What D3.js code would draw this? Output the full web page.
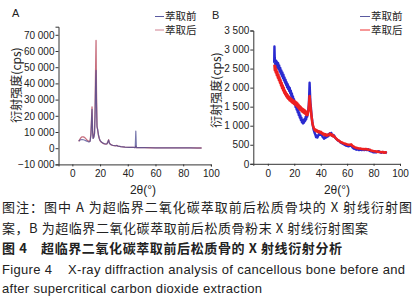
<!DOCTYPE html>
<html><head><meta charset="utf-8">
<script src="https://cdn.jsdelivr.net/npm/d3@7"></script>
<style>
body{margin:0;background:#fff;}
svg{display:block;}
text{fill:#222;}
</style></head>
<body>
<svg id="c" width="420" height="302"></svg>
<script>
// ---------- DATA ----------
// Panel A (bone block)
const aX = [4.6,5,6,7,8,9,10,11,12,12.8,13.4,13.8,14.2,14.6,15.0,15.5,16.0,16.4,16.8,17.1,17.4,17.8,18.3,18.8,19.4,20,21,22,23,24,25,25.7,26.2,26.7,27.5,29,31,32,33,35,38,41,44,45.4,45.8,46.2,48,52,56,60,65,70,75,80,85,90,93.3];
const aBefore = [4300,4700,5200,5300,5200,4900,4500,4100,3800,4200,8000,16000,24000,10000,6000,6800,9000,20000,40000,48000,28000,13000,11500,8500,6200,4800,3800,3200,2800,2600,2700,4000,5000,3200,2300,1800,1500,1600,1300,1000,700,550,450,400,10500,400,350,300,280,250,220,200,180,170,150,130,120];
const aAfter  = [4200,4800,6300,7000,7000,6500,5600,4700,4100,4500,9000,17000,25500,11000,6200,7000,9500,24000,50000,66500,36000,14000,11000,8000,6000,4600,3700,3100,2700,2500,2700,4200,5200,3300,2300,1800,1500,1700,1300,1000,700,550,450,400,1300,400,350,300,280,250,220,200,180,170,150,130,120];
const aYTicks = [-10000,0,10000,20000,30000,40000,50000,60000,70000];
const aXTicks = [0,20,40,60,80,100];

// Panel B (bone powder)
const bBeforeX = [4.8,5.0,5.2,5.5,5.8,6.1,6.4,6.7,7.0,7.4,7.8,8.2,8.6,9.0,9.4,9.8,10.2,10.6,11.0,11.4,11.8,12.2,12.6,13.0,13.4,13.8,14.2,14.6,15.0,15.4,15.8,16.2,16.6,17.0,17.4,17.8,18.2,18.6,19.0,19.4,19.8,20.2,20.6,21.0,21.4,21.8,22.2,22.6,23.0,23.4,23.8,24.2,24.6,25.0,25.4,25.8,26.2,26.6,27.0,27.4,27.8,28.2,28.6,29.0,29.4,29.8,30.2,30.6,31.0,31.3,31.6,31.9,32.2,32.6,33.0,33.4,33.8,34.2,34.6,35.0,35.5,36.0,36.5,37.0,37.5,38.0,38.5,39.0,39.5,40.0,40.5,41.0,41.5,42.0,42.5,43.0,43.5,44.0,44.5,45.0,45.5,46.0,46.5,47.0,47.5,48.0,48.5,49.0,49.5,50,51,52,53,54,55,56,57,58,59,60,61,62,63,64,65,66,67,68,69,70,71,72,73,74,75,76,77,78,79,80,81,82,83,84,85,86,87,88,89,90];
const bBeforeY = [2650,3080,2800,2620,2720,2540,2700,2560,2670,2520,2640,2480,2580,2420,2520,2370,2450,2310,2400,2250,2340,2190,2270,2130,2210,2070,2140,2010,2090,1960,2030,1910,1990,1850,1920,1780,1850,1710,1770,1640,1700,1560,1620,1490,1550,1420,1480,1350,1410,1280,1340,1210,1270,1150,1210,1090,1150,1060,1140,1080,1180,1130,1230,1170,1290,1240,1360,1400,1550,1800,2130,1850,1600,1480,1300,1180,1060,980,900,860,800,760,700,740,690,730,760,800,760,820,770,740,700,690,660,700,680,720,700,740,720,780,750,800,760,810,740,760,720,750,680,650,610,600,560,540,520,500,480,470,460,470,490,430,400,390,370,380,360,370,360,380,360,370,360,380,340,330,320,300,310,300,320,330,300,290,310,290,300,280];
const bAfterX = [5.0,5.3,5.6,6.0,6.4,6.8,7.2,7.6,8.0,8.4,8.8,9.2,9.6,10.0,10.4,10.8,11.2,11.6,12.0,12.4,12.8,13.2,13.6,14.0,14.4,14.8,15.2,15.6,16.0,16.4,16.8,17.2,17.6,18.0,18.4,18.8,19.2,19.6,20.0,20.4,20.8,21.2,21.6,22.0,22.4,22.8,23.2,23.6,24.0,24.4,24.8,25.2,25.6,26.0,26.4,26.8,27.2,27.6,28.0,28.4,28.8,29.2,29.6,30.0,30.4,30.8,31.2,31.6,32.0,32.4,32.8,33.2,33.6,34.0,34.5,35.0,35.5,36.0,36.5,37.0,37.5,38.0,38.5,39.0,39.5,40.0,40.5,41.0,41.5,42.0,42.5,43.0,43.5,44.0,44.5,45.0,45.5,46.0,46.5,47.0,47.5,48.0,48.5,49.0,49.5,50,51,52,53,54,55,56,57,58,59,60,61,62,63,64,65,66,67,68,69,70,71,72,73,74,75,76,77,78,79,80,81,82,83,84,85,86,87,88,89,90];
const bAfterY = [2600,2460,2560,2400,2480,2330,2410,2260,2340,2200,2270,2130,2200,2060,2130,1990,2060,1930,2000,1870,1930,1820,1880,1770,1830,1730,1790,1700,1760,1670,1730,1650,1710,1620,1680,1600,1660,1580,1650,1560,1630,1540,1610,1510,1580,1480,1550,1450,1520,1420,1490,1400,1460,1370,1440,1350,1420,1330,1400,1310,1370,1280,1350,1280,1350,1420,1580,1780,1620,1450,1330,1200,1100,1020,960,920,880,900,860,880,840,860,830,850,820,840,800,810,780,790,760,780,750,770,740,760,750,770,760,790,760,770,740,760,720,730,690,650,620,600,570,560,540,530,520,510,500,500,510,470,450,430,420,410,400,400,390,390,380,390,380,370,370,350,340,330,330,320,320,310,310,300,310,290,300,290];
const bYTicks = [0,500,1000,1500,2000,2500,3000,3500];
const bXTicks = [0,20,40,60,80,100];

const legendLabels = ["萃取前","萃取后"];
const captionLines = [
  "图注：图中 A 为超临界二氧化碳萃取前后松质骨块的 X 射线衍射图",
  "案，B 为超临界二氧化碳萃取前后松质骨粉末 X 射线衍射图案",
  "图 4　超临界二氧化碳萃取前后松质骨的 X 射线衍射分析",
  "Figure 4    X-ray diffraction analysis of cancellous bone before and",
  "after supercritical carbon dioxide extraction"
];

// ---------- DRAW ----------
const svg = d3.select("#c");
const fmt = v => {
  const s = d3.format(",")(Math.abs(v)).replace(/,/g, " ");
  return (v < 0 ? "\u2212" : "") + s;
};
const tickFont = "'Liberation Sans', Arial, sans-serif";
const cjk = "'Noto Sans CJK SC', sans-serif";

function panel(opt) {
  const g = svg.append("g");
  const x = d3.scaleLinear().domain(opt.xd).range(opt.xr);
  const y = d3.scaleLinear().domain(opt.yd).range(opt.yr);

  const yAxis = d3.axisLeft(y).tickValues(opt.yTicks).tickFormat(fmt).tickSize(3).tickPadding(1);
  const xAxis = d3.axisBottom(x).tickValues(opt.xTicks).tickFormat(d3.format("d")).tickSize(2).tickPadding(4);

  const ya = g.append("g").attr("transform", `translate(${opt.xr[0]},0)`).call(yAxis);
  const xa = g.append("g").attr("transform", `translate(0,${opt.yr[0]})`).call(xAxis);
  [ya, xa].forEach(a => {
    a.select(".domain").attr("stroke", "#333").attr("stroke-width", 1);
    a.selectAll(".tick line").attr("stroke", "#333");
    a.selectAll("text").attr("font-family", tickFont).attr("font-size", 10).attr("fill", "#222");
  });

  const line = d3.line().x(d => x(d[0])).y(d => y(d[1]));
  opt.series.forEach(s => {
    const pts = s.xs.map((v, i) => [v, s.ys[i]]);
    g.append("path").datum(pts).attr("d", line)
      .attr("fill", "none").attr("stroke", s.color).attr("stroke-width", s.w)
      .attr("stroke-linejoin", "round").attr("opacity", s.op || 1);
  });

  // axis titles
  g.append("text").attr("transform", `translate(${opt.ylab[0]},${opt.ylab[1]}) rotate(-90)`)
    .attr("text-anchor", "middle").attr("dominant-baseline", "central")
    .attr("font-family", cjk).attr("font-size", 12).attr("fill", "#333")
    .text("衍射强度(cps)");
  g.append("text").attr("x", opt.xlab[0]).attr("y", opt.xlab[1])
    .attr("text-anchor", "middle").attr("font-family", tickFont).attr("font-size", 12).attr("fill", "#222")
    .text("2θ(°)");
  // panel letter
  g.append("text").attr("x", opt.letter[0]).attr("y", opt.letter[1])
    .attr("font-family", tickFont).attr("font-size", 11).text(opt.letterText);
  // legend
  opt.legend.colors.forEach((c, i) => {
    const ly = opt.legend.y + i * 13.5;
    g.append("line").attr("x1", opt.legend.x).attr("x2", opt.legend.x + opt.legend.len)
      .attr("y1", ly).attr("y2", ly).attr("stroke", c).attr("stroke-width", 1);
    g.append("text").attr("x", opt.legend.x + opt.legend.len + 1).attr("y", ly + 3.6)
      .attr("font-family", cjk).attr("font-size", 10.5)
      .attr("fill", "#333").text(legendLabels[i]);
  });
}

panel({
  xd: [-10, 100], xr: [58.5, 210.9],
  yd: [-10000, 75000], yr: [164.4, 26.7],
  yTicks: aYTicks, xTicks: aXTicks,
  series: [
    {xs: aX, ys: aAfter, color: "#c8707f", w: 1.3},
    {xs: aX, ys: aBefore, color: "#4a4a90", w: 1.2, op: 0.75}
  ],
  ylab: [15, 85], xlab: [143, 194], letter: [12, 17], letterText: "A",
  legend: {x: 155, y: 16.5, len: 9, colors: ["#5a5aa0", "#d08090"]}
});

panel({
  xd: [-11, 100], xr: [253.3, 400],
  yd: [0, 3500], yr: [163.8, 30.5],
  yTicks: bYTicks, xTicks: bXTicks,
  series: [
    {xs: bBeforeX, ys: bBeforeY, color: "#2a2ad0", w: 2.4},
    {xs: bAfterX, ys: bAfterY, color: "#ee2020", w: 2.6}
  ],
  ylab: [215, 90], xlab: [337, 194], letter: [212, 19], letterText: "B",
  legend: {x: 360, y: 16.5, len: 10, colors: ["#5a5aa0", "#ee3030"]}
});

// caption
const capY = [212, 233, 253, 274, 293];
const capW = [410, 366, 340, 403, 260];
captionLines.forEach((t, i) => {
  const en = i >= 3;
  svg.append("text").attr("x", 2).attr("y", capY[i])
    .attr("font-family", en ? tickFont : cjk)
    .attr("font-size", 13)
    .attr("font-weight", i === 2 ? "bold" : "normal")
    .attr("fill", "#111")
    .attr("textLength", capW[i]).attr("lengthAdjust", "spacing")
    .style("white-space", "pre")
    .text(t);
});
</script>
</body></html>
